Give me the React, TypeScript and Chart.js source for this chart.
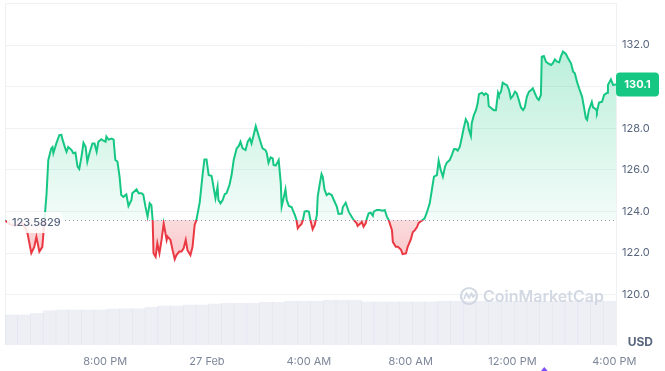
import React, { useEffect, useRef } from 'react';
import { Chart, registerables } from 'chart.js';

Chart.register(...registerables);

// ---- data (times in minutes from 27 Feb 00:00) ----
const openPrice = 123.5829;
const lastPriceLabel = '130.1';

const priceTimes = [
  -476, -466, -452, -437, -428, -423, -414, -407, -402, -395,
  -388, -383, -378, -374, -367, -364, -362, -355, -348, -343,
  -341, -334, -331, -327, -319, -315, -310, -305, -301, -296,
  -291, -286, -282, -277, -270, -265, -260, -256, -249, -244,
  -239, -237, -232, -225, -220, -216, -211, -206, -202, -197,
  -190, -185, -178, -176, -166, -161, -154, -150, -145, -140,
  -135, -131, -128, -126, -121, -117, -112, -107, -102, -95,
  -93, -86, -81, -76, -72, -65, -60, -55, -50, -46,
  -39, -34, -29, -25, -17, -10, -6, -1, 4, 11,
  16, 20, 25, 27, 32, 37, 42, 46, 53, 58,
  63, 70, 75, 79, 84, 91, 96, 101, 105, 110,
  115, 119, 126, 131, 138, 141, 145, 150, 155, 157,
  162, 167, 169, 174, 176, 178, 183, 185, 188, 193,
  200, 202, 207, 211, 214, 218, 223, 226, 230, 235,
  240, 244, 249, 254, 259, 261, 266, 270, 273, 277,
  282, 287, 294, 299, 306, 310, 318, 320, 327, 329,
  334, 341, 346, 353, 355, 362, 365, 369, 374, 377,
  381, 386, 391, 393, 400, 407, 414, 419, 424, 428,
  436, 438, 445, 450, 457, 461, 469, 473, 480, 485,
  490, 495, 499, 506, 513, 518, 525, 530, 535, 542,
  546, 551, 556, 561, 565, 572, 577, 582, 587, 591,
  596, 601, 605, 610, 615, 617, 622, 624, 629, 634,
  638, 641, 648, 653, 657, 662, 664, 671, 676, 681,
  686, 688, 693, 697, 702, 707, 712, 716, 721, 726,
  730, 735, 740, 745, 749, 754, 759, 764, 768, 773,
  778, 782, 787, 789, 794, 799, 804, 811, 815, 820,
  825, 830, 834, 839, 846, 851, 858, 863, 867, 872,
  877, 884, 889, 893, 896, 900, 907, 910, 917, 919,
  924, 931, 936, 943, 945, 952, 957, 964,
];

const priceValues = [
  123.58, 123.40, 123.30, 123.45, 123.20, 122.95, 122.00, 122.30, 122.78, 122.07,
  122.30, 123.58, 124.87, 126.47, 127.03, 127.10, 126.80, 127.27, 127.67, 127.68,
  127.50, 127.03, 126.87, 127.10, 126.95, 126.80, 126.83, 126.15, 126.04, 126.60,
  127.30, 127.10, 126.39, 126.80, 127.27, 127.27, 126.87, 127.35, 127.47, 127.40,
  127.35, 127.60, 127.45, 127.50, 127.45, 126.47, 126.40, 125.67, 124.79, 124.70,
  124.82, 124.26, 124.55, 124.87, 125.06, 124.87, 124.87, 124.80, 124.23, 123.75,
  124.39, 124.30, 123.58, 121.99, 121.82, 122.47, 121.99, 122.63, 123.42, 122.63,
  122.79, 122.63, 122.14, 121.70, 121.90, 122.07, 122.07, 122.23, 122.63, 122.14,
  121.90, 122.30, 123.35, 123.58, 124.45, 125.83, 126.50, 126.50, 125.75, 125.70,
  125.11, 124.63, 125.19, 124.55, 124.39, 124.55, 124.84, 124.87, 125.27, 125.75,
  126.47, 127.03, 127.15, 127.35, 127.03, 126.95, 127.35, 127.51, 127.27, 127.67,
  128.10, 127.83, 127.35, 127.03, 126.95, 126.80, 126.34, 126.60, 126.55, 126.23,
  126.20, 126.39, 126.47, 125.35, 124.23, 124.40, 124.87, 125.06, 124.55, 124.26,
  124.20, 124.07, 123.83, 123.59, 123.19, 123.30, 123.40, 123.58, 123.99, 124.02,
  123.99, 123.58, 123.14, 123.35, 123.83, 124.71, 125.35, 125.80, 125.65, 125.06,
  124.79, 124.87, 124.79, 124.55, 124.23, 123.88, 123.90, 124.20, 124.42, 124.30,
  123.99, 123.75, 123.58, 123.43, 123.30, 123.43, 123.50, 123.27, 123.43, 123.67,
  123.91, 123.94, 123.79, 123.99, 124.07, 124.07, 124.04, 124.07, 123.75, 123.60,
  123.10, 122.54, 122.30, 122.30, 122.17, 121.95, 121.98, 122.30, 122.63, 123.00,
  123.10, 123.25, 123.45, 123.55, 123.67, 123.94, 124.39, 125.03, 125.67, 125.75,
  126.44, 125.99, 125.67, 126.15, 126.34, 126.47, 126.71, 126.99, 127.00, 126.92,
  127.11, 127.59, 128.00, 128.43, 128.24, 127.95, 127.63, 128.24, 128.63, 128.87,
  129.20, 129.64, 129.71, 129.60, 129.68, 129.60, 129.07, 128.95, 128.87, 128.87,
  129.71, 129.60, 129.76, 130.19, 130.12, 130.07, 129.84, 129.44, 129.55, 129.76,
  129.68, 129.36, 129.00, 128.87, 129.00, 129.52, 129.76, 129.84, 129.92, 129.68,
  129.44, 129.36, 129.60, 131.44, 131.47, 131.20, 131.12, 131.04, 131.12, 131.31,
  131.20, 131.17, 131.44, 131.68, 131.57, 131.36, 131.12, 130.72, 130.64, 130.24,
  129.92, 129.52, 128.96, 128.48, 128.40, 128.87, 129.27, 129.00, 128.90, 128.79,
  129.23, 129.27, 129.60, 129.70, 130.08, 130.35, 130.08, 130.10,
];

// volume (USD millions), one bar per 30 minutes
const volumeStart = -476;
const volumeStep = 30;
const volumeValues = [
  33.3, 33.3, 35.2, 38.1, 38.9, 38.9, 38.9, 38.9, 40.0, 40.3,
  40.3, 41.9, 43.3, 43.3, 44.4, 44.4, 45.6, 46.3, 46.3, 46.3,
  47.4, 47.4, 48.6, 48.6, 48.6, 49.7, 49.7, 49.7, 47.8, 47.8,
  47.8, 47.8, 47.8, 47.8, 48.6, 48.6, 48.6, 48.6, 48.6, 48.6,
  48.6, 48.6, 48.6, 48.6, 48.6, 48.6, 48.6, 48.6,
];

const xTickTimes = [-240, 0, 240, 480, 720, 960];
const xTickLabels = ['8:00 PM', '27 Feb', '4:00 AM', '8:00 AM', '12:00 PM', '4:00 PM'];
const yTickValues = [120, 122, 124, 126, 128, 130, 132];
const eventTimes = [795];

const GREEN = '#16c784';
const RED = '#ea3943';
const FONT = "Inter, 'Noto Sans', sans-serif";

function baseFraction(chart: any) {
  const { chartArea, scales } = chart;
  const y = scales.y.getPixelForValue(openPrice);
  const f = (y - chartArea.top) / (chartArea.bottom - chartArea.top);
  return Math.min(1, Math.max(0, f));
}

function lineGradient(chart: any) {
  const { ctx, chartArea } = chart;
  if (!chartArea || !chart.scales.y) return GREEN;
  const f = baseFraction(chart);
  const g = ctx.createLinearGradient(0, chartArea.top, 0, chartArea.bottom);
  g.addColorStop(0, GREEN);
  g.addColorStop(f, GREEN);
  g.addColorStop(f, RED);
  g.addColorStop(1, RED);
  return g;
}

function fillGradient(chart: any) {
  const { ctx, chartArea } = chart;
  if (!chartArea || !chart.scales.y) return 'rgba(22,199,132,0.15)';
  const f = baseFraction(chart);
  const g = ctx.createLinearGradient(0, chartArea.top, 0, chartArea.bottom);
  g.addColorStop(0, 'rgba(22,199,132,0.36)');
  g.addColorStop(f, 'rgba(22,199,132,0.05)');
  g.addColorStop(f, 'rgba(234,57,67,0.18)');
  g.addColorStop(1, 'rgba(234,57,67,0.5)');
  return g;
}

const framePlugin = {
  id: 'frame',
  beforeDraw(chart: any) {
    const { ctx, chartArea } = chart;
    ctx.save();
    ctx.strokeStyle = '#eff2f5';
    ctx.lineWidth = 1;
    ctx.beginPath();
    ctx.moveTo(chartArea.left + 0.5, chartArea.bottom);
    ctx.lineTo(chartArea.left + 0.5, chartArea.top + 0.5);
    ctx.lineTo(chartArea.right, chartArea.top + 0.5);
    ctx.stroke();
    ctx.restore();
  },
};

const watermarkPlugin = {
  id: 'watermark',
  beforeDatasetsDraw(chart: any) {
    const { ctx, chartArea } = chart;
    const color = '#d3d9e3';
    const cx = chartArea.right - 147;
    const cy = chartArea.bottom - 49;
    ctx.save();
    ctx.strokeStyle = color;
    ctx.lineWidth = 2.2;
    ctx.beginPath();
    ctx.arc(cx, cy, 8, 0, Math.PI * 2);
    ctx.stroke();
    ctx.lineWidth = 1.8;
    ctx.lineJoin = 'round';
    ctx.beginPath();
    ctx.moveTo(cx - 5, cy + 3);
    ctx.lineTo(cx - 2.5, cy - 3);
    ctx.lineTo(cx, cy + 2);
    ctx.lineTo(cx + 2.5, cy - 3);
    ctx.lineTo(cx + 4, cy + 1);
    ctx.lineTo(cx + 6, cy - 1);
    ctx.stroke();
    ctx.fillStyle = color;
    ctx.font = `600 16px ${FONT}`;
    ctx.textAlign = 'left';
    ctx.textBaseline = 'middle';
    ctx.fillText('CoinMarketCap', cx + 14, cy + 1);
    ctx.restore();
  },
};

const overlayPlugin = {
  id: 'overlay',
  afterDatasetsDraw(chart: any) {
    const { ctx, chartArea, scales } = chart;
    const by = Math.round(scales.y.getPixelForValue(openPrice)) + 0.5;
    ctx.save();
    // dotted baseline
    ctx.strokeStyle = '#8f99ab';
    ctx.lineWidth = 1;
    ctx.setLineDash([1, 3]);
    ctx.beginPath();
    ctx.moveTo(chartArea.left, by);
    ctx.lineTo(chartArea.right, by);
    ctx.stroke();
    ctx.setLineDash([]);
    // baseline label
    ctx.fillStyle = 'rgba(255,255,255,0.85)';
    ctx.beginPath();
    (ctx as any).roundRect(chartArea.left + 2, by - 8.5, 56, 21, 5);
    ctx.fill();
    ctx.fillStyle = '#58667e';
    ctx.font = `500 11px ${FONT}`;
    ctx.textAlign = 'left';
    ctx.textBaseline = 'middle';
    ctx.fillText(openPrice.toFixed(4), chartArea.left + 7, by + 2.5);
    ctx.restore();
  },
  afterDraw(chart: any) {
    const { ctx, chartArea, scales } = chart;
    ctx.save();
    // current price tag
    const lastY = scales.y.getPixelForValue(priceValues[priceValues.length - 1]);
    ctx.fillStyle = GREEN;
    ctx.beginPath();
    (ctx as any).roundRect(chartArea.right, lastY - 12, 43, 24, 4);
    ctx.fill();
    ctx.fillStyle = '#ffffff';
    ctx.font = `700 11px ${FONT}`;
    ctx.textAlign = 'center';
    ctx.textBaseline = 'middle';
    ctx.fillText(lastPriceLabel, chartArea.right + 21.5, lastY + 0.5);
    // USD label
    ctx.fillStyle = '#58667e';
    ctx.font = `700 12px ${FONT}`;
    ctx.textAlign = 'right';
    ctx.fillText('USD', chart.width - 12, chartArea.bottom - 3);
    // event markers
    ctx.fillStyle = '#7c4dff';
    eventTimes.forEach((t) => {
      const x = scales.x.getPixelForValue(t);
      const top = chartArea.bottom + 22;
      ctx.beginPath();
      ctx.moveTo(x, top);
      ctx.lineTo(x + 5, top + 6);
      ctx.lineTo(x - 5, top + 6);
      ctx.closePath();
      ctx.fill();
    });
    ctx.restore();
  },
};

export default function App() {
  const canvasRef = useRef<HTMLCanvasElement | null>(null);

  useEffect(() => {
    const canvas = canvasRef.current;
    if (!canvas) return;
    const chart = new Chart(canvas, {
      type: 'line',
      data: {
        datasets: [
          {
            type: 'line',
            label: 'Price',
            data: priceTimes.map((t, i) => ({ x: t, y: priceValues[i] })),
            yAxisID: 'y',
            borderColor: (c: any) => lineGradient(c.chart),
            backgroundColor: (c: any) => fillGradient(c.chart),
            borderWidth: 2,
            pointRadius: 0,
            tension: 0,
            fill: { value: openPrice },
            order: 1,
          } as any,
          {
            type: 'bar',
            label: 'Volume',
            data: volumeValues.map((v, i) => ({ x: volumeStart + volumeStep / 2 + i * volumeStep, y: v })),
            yAxisID: 'yVol',
            backgroundColor: 'rgba(207,214,228,0.38)',
            borderWidth: 0,
            barPercentage: 1,
            categoryPercentage: 1,
            order: 2,
          } as any,
        ],
      },
      options: {
        responsive: false,
        animation: false,
        events: [],
        layout: { padding: { left: 5, top: 3, right: 0, bottom: 0 } },
        plugins: { legend: { display: false }, tooltip: { enabled: false } },
        scales: {
          x: {
            type: 'linear',
            min: priceTimes[0],
            max: priceTimes[priceTimes.length - 1],
            offset: false,
            grid: { display: false, drawTicks: false },
            border: { display: false },
            afterBuildTicks: (s: any) => {
              s.ticks = xTickTimes.map((v) => ({ value: v }));
            },
            afterFit: (s: any) => {
              s.height = 26;
              s.paddingLeft = 0;
              s.paddingRight = 0;
            },
            ticks: {
              autoSkip: false,
              maxRotation: 0,
              padding: 10,
              color: '#7d8699',
              font: { size: 11, family: FONT },
              callback: (v: any) => xTickLabels[xTickTimes.indexOf(Number(v))],
            },
          },
          y: {
            type: 'linear',
            position: 'right',
            min: 117.58,
            max: 134.02,
            grid: { color: '#eff2f5', drawTicks: false },
            border: { display: true, color: '#eff2f5' },
            afterBuildTicks: (s: any) => {
              s.ticks = yTickValues.map((v) => ({ value: v }));
            },
            afterFit: (s: any) => {
              s.width = 49;
              s.paddingTop = 0;
              s.paddingBottom = 0;
            },
            ticks: {
              padding: 6,
              color: '#58667e',
              font: { size: 11, family: FONT },
              callback: (v: any) => Number(v).toFixed(1),
            },
          },
          yVol: {
            type: 'linear',
            display: false,
            min: 0,
            max: 380,
          },
        },
      } as any,
      plugins: [framePlugin, watermarkPlugin, overlayPlugin],
    });
    return () => chart.destroy();
  }, []);

  return (
    <div style={{ position: 'absolute', left: 0, top: 0, width: 665, height: 371, background: '#ffffff' }}>
      <canvas ref={canvasRef} width={665} height={371} style={{ display: 'block' }} />
    </div>
  );
}
